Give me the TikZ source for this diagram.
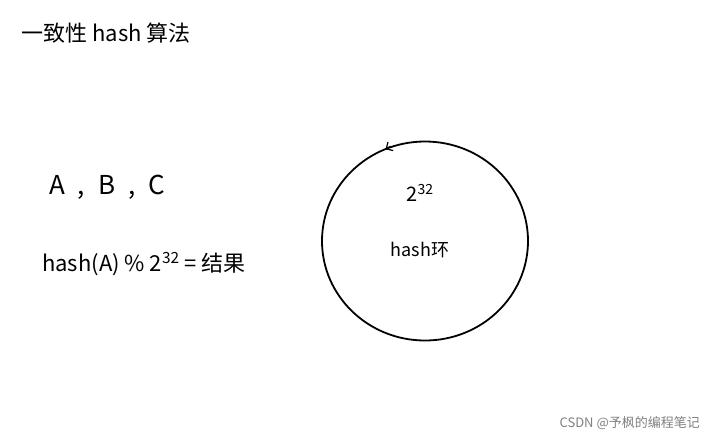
\documentclass[tikz,border=0pt]{standalone}
\usepackage{fontspec}
\newfontfamily\cjk{Noto Sans CJK SC}
\usetikzlibrary{positioning, arrows.meta, shapes.geometric}
\tikzset{
	hand/.style={
		font=\cjk, inner sep=0pt, anchor=center,
	},
	ring/.style={
		draw, line width=1.8pt,
	}
}

\begin{document}
\begin{tikzpicture}[x=1pt,y=-1pt]
		\useasboundingbox (0,0) rectangle (707,437);
		
		\node [hand, font=\cjk\fontsize{22}{26}\selectfont] (title) at (106,33) {一致性 hash 算法};
		\node [hand, font=\cjk\fontsize{26}{30}\selectfont] (abc) at (107,187) {A\enspace,\enspace B\enspace,\enspace C};
		\node [hand, font=\cjk\fontsize{22}{26}\selectfont] (mod) at (144,264) {hash(A) \% 2\textsuperscript{32} = 结果};
		
		\node [ring, ellipse, minimum width=206pt, minimum height=199pt] (ringc) at (425,241) {};
		\node [hand, font=\cjk\fontsize{20}{24}\selectfont] (size) at (420,193) {2\textsuperscript{32}};
		\node [hand, font=\cjk\fontsize{18}{22}\selectfont, below=40pt of size] (ringl) {hash环};
		\draw [line width=1.2pt, -{Straight Barb[length=5pt]}] (ringc.110) -- +(-5,3);
		
		\node [hand, font=\cjk\fontsize{13}{15}\selectfont, text=gray, anchor=east] (mark) at (700,423) {CSDN @予枫的编程笔记};
		\end{tikzpicture}
\end{document}
